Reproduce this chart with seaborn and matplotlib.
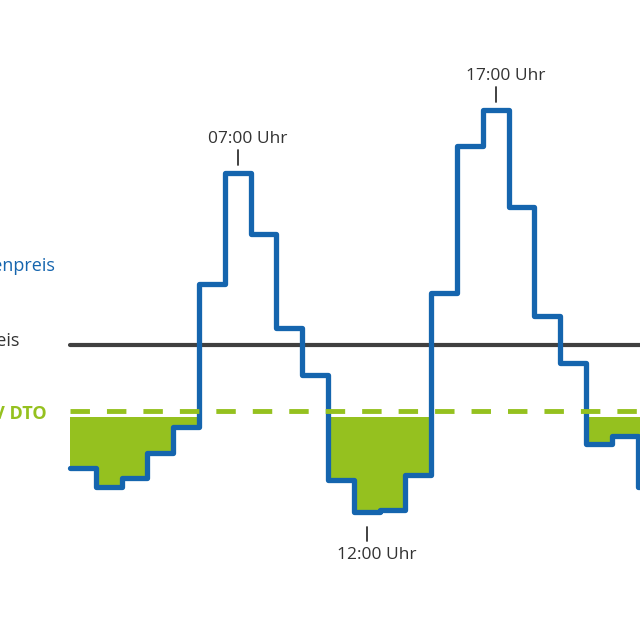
import numpy as np
import pandas as pd
import matplotlib
matplotlib.use("Agg")
import matplotlib.pyplot as plt
import seaborn as sns

# Hourly price (arbitrary units), one step per hour
hours = list(range(1, 24))
price = [18.4, 14.6, 16.4, 21.4, 26.6, 55.2, 77.4, 65.2, 46.4, 37.0, 16.0, 9.6,
         10.0, 17.0, 53.4, 82.8, 90.0, 70.6, 48.8, 39.4, 23.2, 24.8, 14.6]
avg_price = 43.0
dto_limit = 29.8
fill_top = 28.6

peak_labels = ["07:00 Uhr", "12:00 Uhr", "17:00 Uhr"]
peak_hours = [7, 12, 17]
peak_above = [True, False, True]

BLUE = "#1565ae"
GREEN = "#95c11f"
GREY = "#404040"
TEXT = "#333333"

sns.set_theme(style="white")
plt.rcParams["font.family"] = ["Open Sans", "DejaVu Sans"]

# step edges
edges = [h - 0.5 for h in hours] + [hours[-1] + 0.5]
vals = price + [price[-1]]
df = pd.DataFrame({"x": edges, "price": vals})

fig = plt.figure(figsize=(6.4, 6.4), dpi=100)
ax = fig.add_axes([0, 0, 1, 1])
ax.axis("off")

x0 = 70 / 640

# green fill below the DTO limit
clipped = np.minimum(np.array(vals), fill_top)
ax.fill_between(edges, clipped, fill_top, step="post", color=GREEN, lw=0, zorder=1)

ax.axhline(avg_price, xmin=x0, xmax=1, color=GREY, lw=3.0, zorder=2)

sns.lineplot(data=df, x="x", y="price", drawstyle="steps-post", estimator=None,
             color=BLUE, lw=3.8, ax=ax, zorder=3)

ax.axhline(dto_limit, xmin=x0, xmax=1, color=GREEN, lw=3.5, ls=(0, (4, 3.5)), zorder=4)
ax.set_xlim(-2.213, 22.593)
ax.set_ylim(-16, 112)

# peak / trough annotations
for lab, h, up in zip(peak_labels, peak_hours, peak_above):
    v = price[hours.index(h)]
    if up:
        ax.plot([h, h], [v + 1.6, v + 4.6], color=TEXT, lw=1.3)
        ax.text(h + 0.4, v + 6.8, lab, ha="center", va="center", fontsize=12.5, color=TEXT)
    else:
        ax.plot([h, h], [v - 3.0, v - 5.8], color=TEXT, lw=1.3)
        ax.text(h + 0.4, v - 8.6, lab, ha="center", va="center", fontsize=12.5, color=TEXT)

# legend-like labels on the left (cut by the figure edge, as in the original)
ax.text(-0.08, 58.8, "Stundenpreis", ha="right", va="center", fontsize=13,
        color=BLUE, fontweight="medium")
ax.text(-1.44, 43.8, "Durchschnittspreis", ha="right", va="center", fontsize=13,
        color=TEXT)
ax.text(-0.39, 29.2, "Grenze V DTO", ha="right", va="center", fontsize=13,
        color=GREEN, fontweight="bold")

fig.savefig("out.png", dpi=100)
